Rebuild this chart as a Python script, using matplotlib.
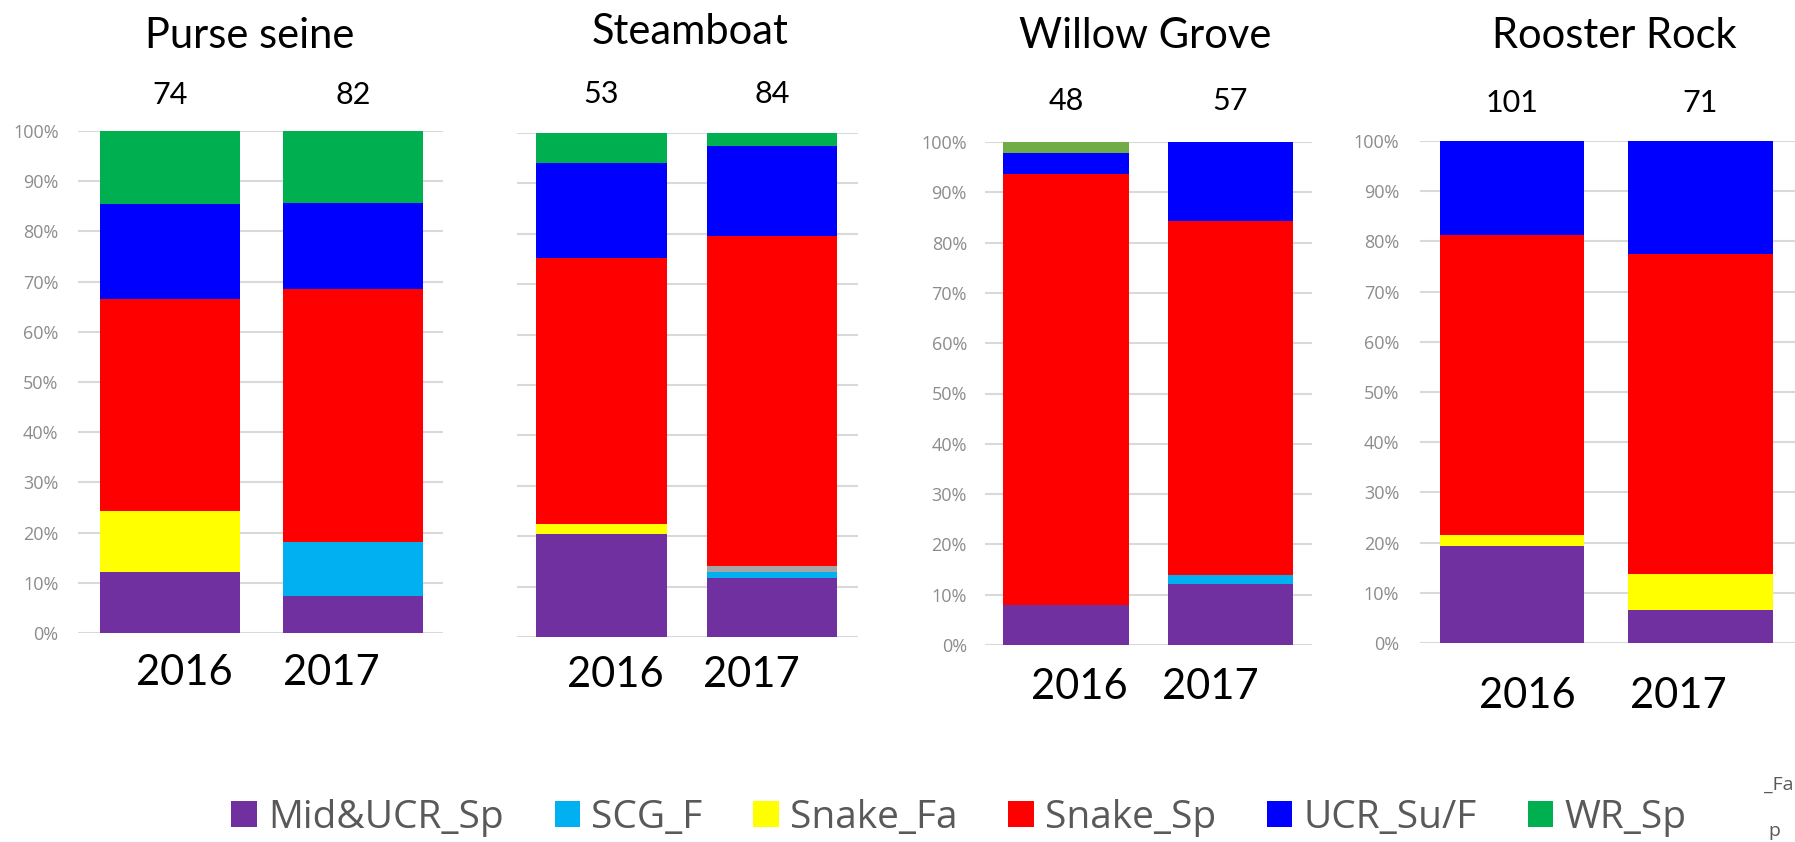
import numpy as np
import matplotlib.pyplot as plt
from matplotlib.patches import Patch

sites = ["Purse seine", "Steamboat", "Willow Grove", "Rooster Rock"]
years = ["2016", "2017"]
fish_counts = [[74, 82], [53, 84], [48, 57], [101, 71]]

# stock composition (% of fish) per site, [2016, 2017]
mid_ucr_sp = [[12.1, 7.3], [20.4, 11.8], [8.0, 12.1], [19.4, 6.6]]
scg_f = [[0.0, 10.9], [0.0, 1.0], [0.0, 1.9], [0.0, 0.0]]
snake_fa = [[12.2, 0.0], [2.0, 0.0], [0.0, 0.0], [2.1, 7.1]]
unassigned = [[0.0, 0.0], [0.0, 1.2], [0.0, 0.0], [0.0, 0.0]]
snake_sp = [[42.2, 50.3], [52.8, 65.5], [85.6, 70.2], [59.7, 63.7]]
ucr_su_f = [[18.9, 17.1], [18.8, 17.9], [4.3, 15.8], [18.8, 22.6]]
wr_sp = [[14.6, 14.4], [6.0, 2.6], [2.1, 0.0], [0.0, 0.0]]

stock_names = ["Mid&UCR_Sp", "SCG_F", "Snake_Fa", "", "Snake_Sp", "UCR_Su/F", "WR_Sp"]
stock_values = [mid_ucr_sp, scg_f, snake_fa, unassigned, snake_sp, ucr_su_f, wr_sp]
stock_colors = ["#7030A0", "#00B0F0", "#FFFF00", "#A5A5A5", "#FF0000", "#0000FF", "#00B050"]

plt.rcParams['font.family'] = ['Lato', 'DejaVu Sans']

W, H = 1795, 842
fig = plt.figure(figsize=(W / 100, H / 100), dpi=100)

# panel boxes in pixels: gridline span, first bar centre, bar step, y of 0% and 100%
panels = [
    dict(grid=(78, 443), bar0=170, step=183, y0=633, y100=131, labels=True, pad=14,
         title=(250, 48), count_dy=36, year_dy=40, wr="#00B050"),
    dict(grid=(517, 858), bar0=601.5, step=170.5, y0=637, y100=133, labels=False, pad=14,
         title=(690, 44), count_dy=39, year_dy=38, wr="#00B050"),
    dict(grid=(985, 1312), bar0=1066, step=164.5, y0=645, y100=142, labels=True, pad=13,
         title=(1145, 48), count_dy=41, year_dy=42, wr="#70AD47"),
    dict(grid=(1420, 1800), bar0=1512, step=188.5, y0=643, y100=141, labels=True, pad=15,
         title=(1614, 48), count_dy=38, year_dy=53, wr="#00B050"),
]
bar_width = 0.765
year_x = [0.08, 0.88]

for i, site in enumerate(sites):
    p = panels[i]
    gl, gr = p['grid']
    ax = fig.add_axes([gl / W, (H - p['y0']) / H, (gr - gl) / W, (p['y0'] - p['y100']) / H])
    x = np.arange(len(years))
    bottom = np.zeros(len(years))
    for name, vals, col in zip(stock_names, stock_values, stock_colors):
        v = np.array(vals[i]) / 100
        if name == "WR_Sp":
            col = p['wr']
        ax.bar(x, v, bar_width, bottom=bottom, color=col, linewidth=0, zorder=2)
        bottom += v

    ax.set_xlim((gl - p['bar0']) / p['step'], (gr - p['bar0']) / p['step'])
    ax.set_ylim(0, 1)
    ticks = np.linspace(0, 1, 11)
    ax.set_yticks(ticks)
    ax.set_yticklabels([f"{int(round(t * 100))}%" for t in ticks], family='Open Sans',
                       fontsize=13, color='#8c8c8c')
    ax.tick_params(axis='y', length=0, pad=p['pad'], labelleft=p['labels'])
    ax.set_xticks([])
    ax.yaxis.grid(True, color='#d9d9d9', linewidth=1.5)
    ax.set_axisbelow(True)
    for s in ax.spines.values():
        s.set_visible(False)

    for j, n in enumerate(fish_counts[i]):
        ax.annotate(str(n), xy=(j, 1), xycoords=('data', 'axes fraction'),
                    xytext=(0, p['count_dy'] * 0.72), textcoords='offset points',
                    ha='center', va='center', fontsize=22)
    for j, yr in enumerate(years):
        ax.annotate(yr, xy=(year_x[j], 0), xycoords=('data', 'axes fraction'),
                    xytext=(0, -p['year_dy'] * 0.72), textcoords='offset points',
                    ha='center', va='center', fontsize=30)

    tx, ty = p['title']
    fig.text(tx / W, 1 - ty / H, site, ha='center', va='baseline', fontsize=30)

handles = [Patch(facecolor=c, edgecolor='none', label=n)
           for n, c in zip(stock_names, stock_colors) if n]
fig.legend(handles=handles, loc='center', bbox_to_anchor=(959 / W, 1 - 818 / H),
           ncol=6, frameon=False, handlelength=0.65, handleheight=0.65,
           handletextpad=0.3, columnspacing=1.3, labelcolor='#595959',
           prop={'family': 'Open Sans', 'size': 28})

# edge of a neighbouring legend
fig.text(1793 / W, 1 - 790 / H, "_Fa", ha='right', fontsize=14, color='#595959',
         family='Open Sans')
fig.text(1768 / W, 1 - 836 / H, "p", fontsize=14, color='#595959', family='Open Sans')

fig.savefig("out.png", dpi=100, facecolor='white')
